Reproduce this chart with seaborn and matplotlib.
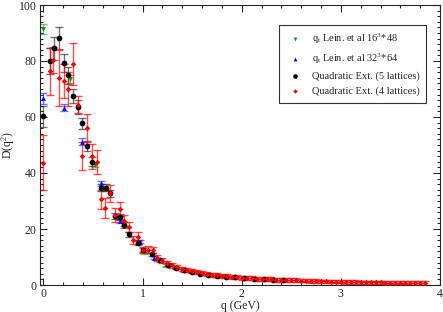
import matplotlib
matplotlib.use("Agg")
import matplotlib.pyplot as plt
import seaborn as sns
from matplotlib.ticker import MultipleLocator

# q_t Lein et al 16^3*48
q_green = [0.0, 0.27, 0.515, 1.01, 1.24]
d_green = [91.4, 73.5, 43.0, 11.7, 7.0]
e_green = [1.8, 1.5, 1.0, 0.5, 0.4]

# q_t Lein et al 32^3*64
q_blue = [0.0, 0.204, 0.39, 0.58, 0.767, 0.975, 1.115]
d_blue = [66.7, 63.3, 51.2, 36.3, 22.9, 15.5, 9.7]
e_blue = [2.0, 1.2, 1.2, 1.0, 0.8, 0.6, 0.5]

# Quadratic ext, 5 lattices
q_black = [0.0, 0.063, 0.11, 0.158, 0.205, 0.25, 0.30, 0.345, 0.39, 0.44,
           0.485, 0.58, 0.626, 0.67, 0.72, 0.767, 0.81, 0.86, 0.95, 1.0,
           1.09, 1.18, 1.26, 1.34, 1.42, 1.5, 1.58, 1.66, 1.75, 1.84,
           1.93, 2.02, 2.12, 2.22, 2.32, 2.42]
d_black = [60.2, 80.0, 84.5, 88.3, 79.2, 74.9, 67.4, 63.5, 57.7, 49.6,
           44.0, 34.8, 34.8, 32.7, 24.6, 24.2, 21.4, 18.2, 15.1, 12.5,
           10.9, 8.8, 7.3, 6.2, 5.2, 4.6, 4.1, 3.7, 3.3, 3.0,
           2.7, 2.5, 2.3, 2.1, 1.95, 1.8]
e_black = [3.9, 4.5, 4.0, 4.0, 3.3, 3.0, 2.5, 2.5, 2.0, 1.8,
           1.6, 1.4, 1.3, 1.2, 1.1, 1.0, 1.0, 0.9, 0.8, 0.7,
           0.6, 0.5, 0.5, 0.4, 0.4, 0.4, 0.3, 0.3, 0.3, 0.3,
           0.3, 0.3, 0.3, 0.3, 0.3, 0.3]

# Quadratic ext, 4 lattices
q_red = [0.0, 0.063, 0.10, 0.158, 0.205, 0.25, 0.30, 0.345, 0.39, 0.44,
         0.49, 0.54, 0.583, 0.623, 0.673, 0.72, 0.767, 0.81, 0.86, 0.90,
         0.95, 1.0, 1.05, 1.10,
         1.15, 1.20, 1.25, 1.30, 1.35, 1.40, 1.45, 1.50, 1.55, 1.60,
         1.65, 1.70, 1.75, 1.80, 1.85, 1.90, 1.95, 2.00, 2.05, 2.10,
         2.15, 2.20, 2.25, 2.30, 2.35, 2.40, 2.45, 2.50, 2.55, 2.60,
         2.65, 2.70, 2.75, 2.80, 2.85, 2.90, 2.95, 3.00, 3.05, 3.10,
         3.15, 3.20, 3.25, 3.30, 3.35, 3.40, 3.45, 3.50, 3.55, 3.60,
         3.65, 3.70, 3.75, 3.80, 3.85]
d_red = [43.7, 76.4, 80.4, 73.8, 72.9, 69.9, 79.0, 64.4, 46.0, 56.2,
         46.0, 44.0, 30.6, 27.4, 32.7, 25.0, 27.0, 22.9, 20.8, 16.0,
         17.3, 12.5, 12.6, 12.5,
         9.6, 8.7, 7.8, 7.0, 6.5, 5.8, 5.3, 4.9, 4.5, 4.2,
         3.9, 3.7, 3.5, 3.3, 3.1, 2.9, 2.8, 2.6, 2.5, 2.4,
         2.3, 2.2, 2.1, 2.0, 1.95, 1.85, 1.8, 1.7, 1.65, 1.6,
         1.5, 1.45, 1.4, 1.35, 1.3, 1.25, 1.2, 1.15, 1.1, 1.08,
         1.05, 1.0, 0.98, 0.95, 0.92, 0.9, 0.87, 0.85, 0.82, 0.8,
         0.78, 0.76, 0.74, 0.72, 0.7]
e_red = [9.7, 8.4, 4.6, 10.0, 6.0, 6.0, 7.5, 3.0, 5.0, 5.0,
         4.5, 4.3, 3.5, 3.5, 3.0, 2.5, 2.5, 2.0, 1.8, 1.5,
         1.5, 1.2, 1.2, 1.2,
         1.0, 1.0, 0.9, 0.9, 0.8, 0.8, 0.8, 0.7, 0.7, 0.7,
         0.7, 0.7, 0.7, 0.7, 0.7, 0.7, 0.7, 0.7, 0.7, 0.7,
         0.7, 0.7, 0.7, 0.7, 0.7, 0.7, 0.7, 0.7, 0.7, 0.7,
         0.6, 0.6, 0.6, 0.6, 0.6, 0.6, 0.6, 0.6, 0.6, 0.6,
         0.6, 0.6, 0.6, 0.6, 0.6, 0.6, 0.6, 0.6, 0.6, 0.6,
         0.6, 0.6, 0.6, 0.6, 0.6]

labels = [
    r"q$_\mathrm{t}$ Lein. et al 16$^3$*48",
    r"q$_\mathrm{t}$ Lein. et al 32$^3$*64",
    "Quadratic Ext. (5 lattices)",
    "Quadratic Ext. (4 lattices)",
]

sns.set_style("ticks")
plt.rcParams["font.family"] = ["Liberation Serif", "DejaVu Serif"]
plt.rcParams["mathtext.fontset"] = "custom"
plt.rcParams["mathtext.rm"] = "Liberation Serif"
plt.rcParams["mathtext.it"] = "Liberation Serif:italic"

fig = plt.figure(figsize=(4.43, 3.12), dpi=100)
ax = fig.add_axes([40 / 443, 1 - 285 / 312, 400 / 443, 280 / 312])

series = [
    (q_green, d_green, e_green, "#00a000", "v", 12, 0.55),
    (q_blue, d_blue, e_blue, "#0000ff", "^", 12, 0.55),
    (q_black, d_black, e_black, "black", "o", 17, 0.55),
    (q_red, d_red, e_red, "#ff0000", "D", 8, 0.7),
]

for (q, d, e, color, marker, size, alpha), label in zip(series, labels):
    ax.errorbar(
        q, d, yerr=e,
        fmt="none",
        ecolor=color,
        alpha=alpha,
        elinewidth=1.0,
        capsize=3,
        capthick=1.0,
        zorder=2
    )
    sns.scatterplot(
        x=q, y=d,
        marker=marker,
        color=color,
        s=size,
        linewidth=0,
        label=label,
        ax=ax,
        zorder=3
    )

ax.set_xlim(-0.035, 4.0)
ax.set_ylim(0, 100)

ax.xaxis.set_major_locator(MultipleLocator(1))
ax.xaxis.set_minor_locator(MultipleLocator(0.2))
ax.yaxis.set_major_locator(MultipleLocator(20))
ax.yaxis.set_minor_locator(MultipleLocator(2))

ax.tick_params(which="both", direction="in", top=True, right=True,
               labelsize=8.5, width=0.8)
ax.tick_params(which="major", length=5, pad=2.5)
ax.tick_params(which="minor", length=2.5)

for spine in ax.spines.values():
    spine.set_linewidth(0.8)

ax.set_xlabel("q (GeV)", fontsize=8.5)
ax.xaxis.set_label_coords(0.5, -0.052)
ax.set_ylabel(r"D(q$^2$)", fontsize=8.5)
ax.yaxis.set_label_coords(-0.057, 0.5)

leg = ax.legend(
    loc="upper right",
    bbox_to_anchor=(0.965, 0.929),
    borderaxespad=0,
    fontsize=7.5,
    frameon=True,
    fancybox=False,
    framealpha=1,
    edgecolor="#333333",
    handletextpad=0.6,
    labelspacing=0.55,
    markerscale=0.8,
    borderpad=0.6
)
leg.get_frame().set_linewidth(0.8)

plt.savefig("out.png", dpi=100)
plt.close()
